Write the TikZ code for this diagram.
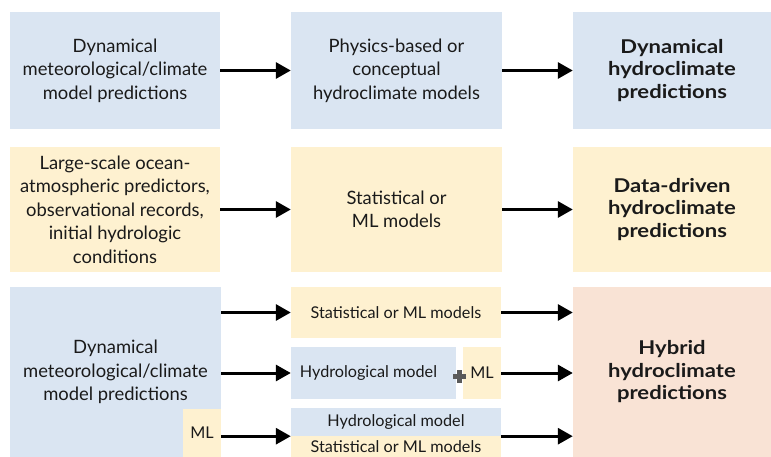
\documentclass[tikz,border=0pt]{standalone}
\usepackage{fontspec}
\setmainfont{Lato}
\newfontfamily\resfont{Lato}[FakeStretch=1.16]
\usetikzlibrary{arrows.meta}
\definecolor{bluebox}{HTML}{DAE5F2}
\definecolor{yellowbox}{HTML}{FEF1D0}
\definecolor{peachbox}{HTML}{F9E3D5}
\definecolor{txt}{HTML}{1A1A1A}
\definecolor{plusgray}{HTML}{5A5A5A}
\tikzset{
  box/.style={inner sep=0pt, align=center, text=txt, font=\fontsize{18.4}{23.5}\selectfont},
  smallbox/.style={box, font=\fontsize{16.2}{20}\selectfont},
  resbox/.style={box, font=\resfont\fontsize{19}{22.5}\selectfont\bfseries},
  arr/.style={line width=3pt, -{Triangle[length=15pt,width=16pt]}, black},
}
\begin{document}
\begin{tikzpicture}[x=1pt,y=-1pt]
\useasboundingbox (0,0) rectangle (771,457);
% row 1
\node[box, fill=bluebox, minimum width=210pt, minimum height=117pt] (a1) at (115,70.5)
  {Dynamical\\meteorological/climate\\model predictions};
\node[box, fill=bluebox, minimum width=211pt, minimum height=117pt] (a2) at (396.5,70.5)
  {Physics-based or\\conceptual\\hydroclimate models};
\node[resbox, fill=bluebox, minimum width=198pt, minimum height=117pt] (a3) at (672,70.5)
  {Dynamical\\hydroclimate\\predictions};
% row 2
\node[box, fill=yellowbox, minimum width=210pt, minimum height=125pt] (b1) at (115,209.5)
  {Large-scale ocean-\\atmospheric predictors,\\observational records,\\initial hydrologic\\conditions};
\node[box, fill=yellowbox, minimum width=211pt, minimum height=125pt] (b2) at (396.5,209.5)
  {Statistical or\\ML models};
\node[resbox, fill=yellowbox, minimum width=198pt, minimum height=125pt] (b3) at (672,209.5)
  {Data-driven\\hydroclimate\\predictions};
% row 3
\node[box, fill=bluebox, minimum width=211pt, minimum height=170pt] (c1) at (115.5,372)
  {Dynamical\\meteorological/climate\\model predictions};
\node[smallbox, fill=yellowbox, minimum width=38pt, minimum height=48pt] (mlL) at (202,433) {ML};
\node[smallbox, fill=yellowbox, minimum width=210pt, minimum height=51pt] (s1) at (396,312.5)
  {Statistical or ML models};
\node[smallbox, fill=bluebox, minimum width=165pt, minimum height=52pt] (hm) at (373.5,373)
  {Hydrological model\hspace*{10pt}};
\node[smallbox, fill=yellowbox, minimum width=38pt, minimum height=52pt] (ml2) at (482,373) {ML};
\node[smallbox, fill=bluebox, minimum width=210pt, minimum height=28pt] (hb) at (396,422)
  {Hydrological model};
\node[smallbox, fill=yellowbox, minimum width=210pt, minimum height=21pt, anchor=north] (sb) at (hb.south)
  {\raisebox{-3pt}{Statistical or ML models}};
\node[resbox, fill=peachbox, minimum width=198pt, minimum height=170pt] (c3) at (672,372)
  {Hybrid\\hydroclimate\\predictions};
% plus sign
\fill[plusgray] (453,374) rectangle (466,378.5);
\fill[plusgray] (457.3,370) rectangle (461.8,382.5);
% arrows
\draw[arr] (a1.east) -- (a2.west);
\draw[arr] (a2.east) -- (a3.west);
\draw[arr] (b1.east) -- (b2.west);
\draw[arr] (b2.east) -- (b3.west);
\draw[arr] (c1.east |- s1.west) -- (s1.west);
\draw[arr] (c1.east |- hm.west) -- (hm.west);
\draw[arr] (mlL.east |- hb.south) -- (hb.south west);
\draw[arr] (s1.east) -- (c3.west |- s1.east);
\draw[arr] (ml2.east) -- (c3.west |- ml2.east);
\draw[arr] (hb.south east) -- (c3.west |- hb.south);
\end{tikzpicture}
\end{document}
